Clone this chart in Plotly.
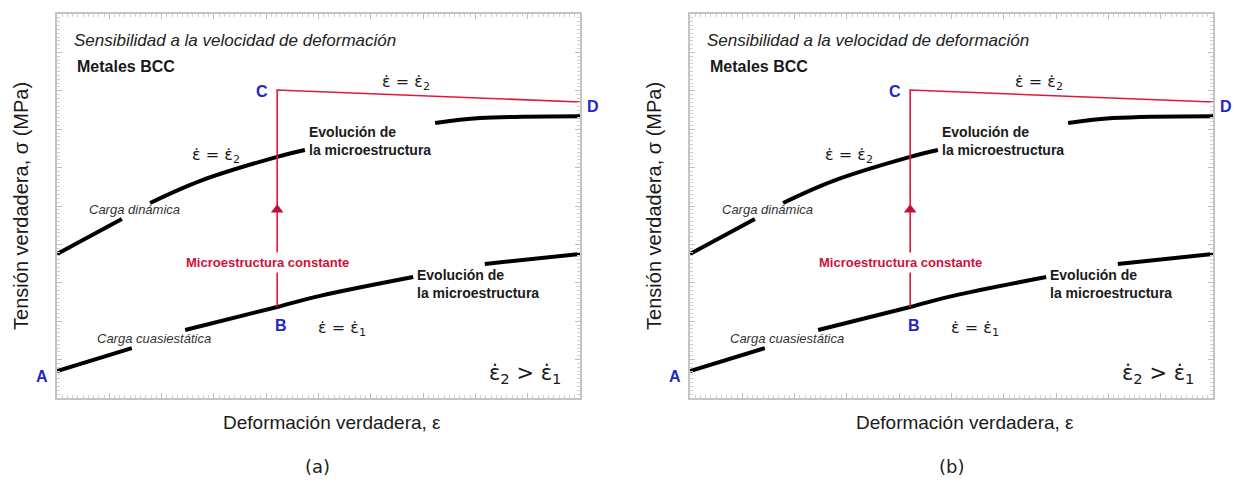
import plotly.graph_objects as go

# ---- data (normalised strain / stress, schematic) ----
quasi_x = [0.0, 0.143, None, 0.245, 0.421, 0.503, 0.681, None, 0.818, 1.0]
quasi_y = [0.070, 0.130, None, 0.177, 0.237, 0.266, 0.315, None, 0.349, 0.375]

dyn_x = [0.0, 0.124, None, 0.178, 0.273, 0.421, 0.474, None, 0.723, 0.809, 1.0]
dyn_y = [0.375, 0.466, None, 0.508, 0.565, 0.628, 0.646, None, 0.716, 0.729, 0.734]

path_x = [0.421, 0.421, 1.0]          # B -> C -> D
path_y = [0.237, 0.802, 0.771]
arrow_x = [0.421]
arrow_y = [0.49]

panel_labels = ["(a)", "(b)"]

FONT = "Liberation Sans"
EFONT = "DejaVu Sans"
BLUE = "#2626c4"
RED = "#e0173f"
DOT = "\u0307"
EPS = "\u03b5"

W, H, OFF = 1234, 484, 0  # body margin removed via post_script

fig = go.Figure()

domains = [((57 - OFF) / W, (580 - OFF) / W), ((690 - OFF) / W, (1213 - OFF) / W)]
ydom = (1 - (398 - OFF) / H, 1 - (14 - OFF) / H)

axis_common = dict(
    range=[0, 1], showgrid=False, zeroline=False, showticklabels=False,
    showline=True, linecolor="#c4c4c4", linewidth=2, mirror="allticks",
    ticks="inside", ticklen=5, tickcolor="#bdbdbd", dtick=0.1,
    minor=dict(ticks="inside", ticklen=3, tickcolor="#d0d0d0", nticks=10),
    fixedrange=True,
)

for i, (dom, lab) in enumerate(zip(domains, panel_labels)):
    n = "" if i == 0 else str(i + 1)
    xa, ya = "x" + n, "y" + n
    fig.update_layout(**{
        "xaxis" + n: dict(domain=list(dom), anchor=ya, **axis_common),
        "yaxis" + n: dict(domain=list(ydom), anchor=xa, **axis_common),
    })
    fig.add_trace(go.Scatter(x=quasi_x, y=quasi_y, mode="lines", xaxis=xa, yaxis=ya,
                             line=dict(color="black", width=4, shape="spline"),
                             connectgaps=False, showlegend=False, hoverinfo="skip"))
    fig.add_trace(go.Scatter(x=dyn_x, y=dyn_y, mode="lines", xaxis=xa, yaxis=ya,
                             line=dict(color="black", width=4, shape="spline"),
                             connectgaps=False, showlegend=False, hoverinfo="skip"))
    fig.add_trace(go.Scatter(x=path_x, y=path_y, mode="lines", xaxis=xa, yaxis=ya,
                             line=dict(color=RED, width=1.6),
                             showlegend=False, hoverinfo="skip", cliponaxis=False))
    fig.add_trace(go.Scatter(x=arrow_x, y=arrow_y, mode="markers", xaxis=xa, yaxis=ya,
                             marker=dict(symbol="triangle-up", size=11, color="#c40f35"),
                             showlegend=False, hoverinfo="skip"))

    def ann(x, y, text, size=14, color="#1a1a1a", xanchor="left", bold=False,
            italic=False, bg=None, family=FONT, align="left"):
        t = text
        if bold:
            t = "<b>" + t + "</b>"
        if italic:
            t = "<i>" + t + "</i>"
        d = dict(x=x, y=y, xref=xa + " domain", yref=ya + " domain", text=t,
                 showarrow=False, xanchor=xanchor, yanchor="middle", align=align,
                 font=dict(family=family, size=size, color=color))
        if bg:
            d.update(bgcolor=bg, borderpad=2)
        fig.add_annotation(**d)

    ann(0.0287, 0.932, "Sensibilidad a la velocidad de deformación", size=17, italic=True, color="#222")
    ann(0.0344, 0.862, "Metales BCC", size=16, bold=True, color="#1a1a1a")
    ann(0.618, 0.822, f"{EPS}{DOT} = {EPS}{DOT}<sub>2</sub>", size=16, family=EFONT)
    ann(0.254, 0.632, f"{EPS}{DOT} = {EPS}{DOT}<sub>2</sub>", size=16, family=EFONT)
    ann(0.495, 0.181, f"{EPS}{DOT} = {EPS}{DOT}<sub>1</sub>", size=16, family=EFONT)
    ann(0.822, 0.062, f"{EPS}{DOT}<sub>2</sub> > {EPS}{DOT}<sub>1</sub>", size=21, family=EFONT)
    ann(0.392, 0.799, "C", size=16, bold=True, color=BLUE, xanchor="center")
    ann(1.025, 0.758, "D", size=16, bold=True, color=BLUE, xanchor="center")
    ann(-0.0287, 0.057, "A", size=16, bold=True, color=BLUE, xanchor="center")
    ann(0.428, 0.190, "B", size=16, bold=True, color=BLUE, xanchor="center")
    ann(0.478, 0.669, "Evolución de<br>la microestructura", size=14, bold=True)
    ann(0.684, 0.297, "Evolución de<br>la microestructura", size=14, bold=True)
    ann(0.057, 0.490, "Carga dinámica", size=13, italic=True, color="#333")
    ann(0.073, 0.156, "Carga cuasiestática", size=13, italic=True, color="#333")
    ann(0.403, 0.354, "Microestructura constante", size=13, bold=True, color="#d0103a",
        xanchor="center", bg="white")

    fig.add_annotation(x=0.526, y=-0.0625, xref=xa + " domain", yref=ya + " domain",
                       text=f"Deformación verdadera, {EPS}", showarrow=False,
                       font=dict(family=FONT, size=19, color="#1a1a1a"),
                       xanchor="center", yanchor="middle")
    fig.add_annotation(x=-0.0690, y=0.5, xref=xa + " domain", yref=ya + " domain",
                       text="Tensión verdadera, σ (MPa)", showarrow=False, textangle=-90,
                       font=dict(family=FONT, size=20, color="#1a1a1a"),
                       xanchor="center", yanchor="middle")
    fig.add_annotation(x=(318 + 633 * i - OFF) / W, y=1 - (466 - OFF) / H,
                       xref="paper", yref="paper", text=lab, showarrow=False,
                       font=dict(family="DejaVu Sans", size=18, color="#222"),
                       xanchor="center", yanchor="middle")

fig.update_layout(
    width=W, height=H, margin=dict(l=0, r=0, t=0, b=0),
    paper_bgcolor="white", plot_bgcolor="white",
)

fig.write_html(
    "out.html",
    config={"displayModeBar": False},
    post_script="document.body.style.margin='0';document.body.style.overflow='hidden';",
)
